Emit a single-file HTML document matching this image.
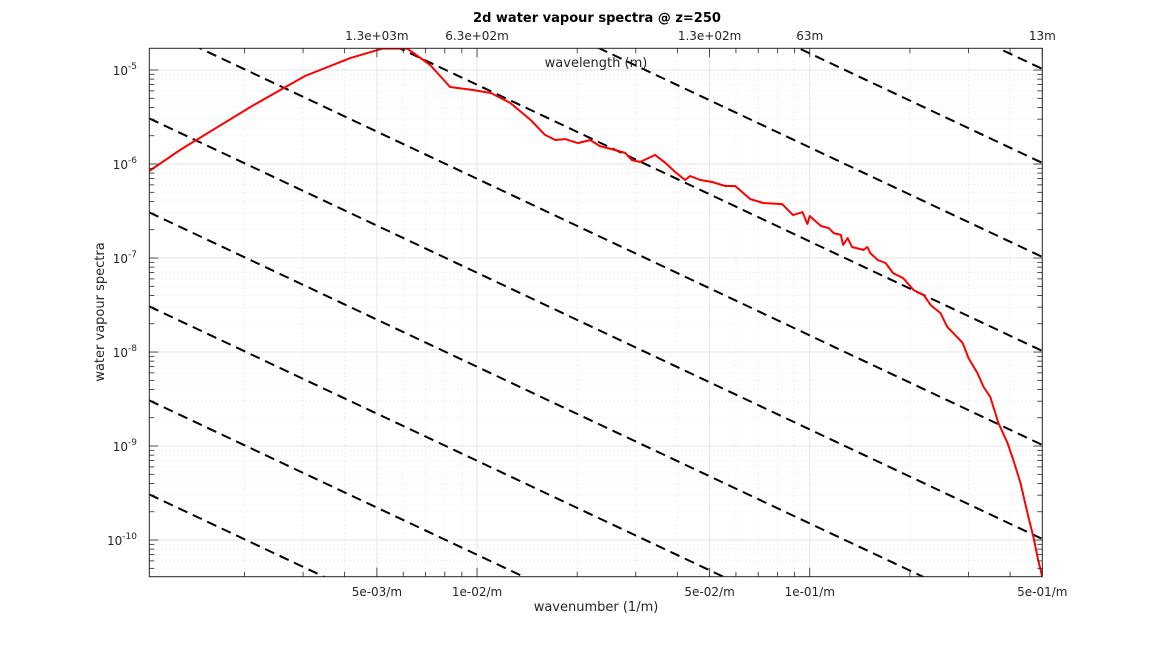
<!DOCTYPE html>
<html><head><meta charset="utf-8"><style>
html,body{margin:0;padding:0;background:#fff;width:1152px;height:648px;overflow:hidden;}
svg{display:block;font-family:"DejaVu Sans","Liberation Sans",sans-serif;}
</style></head><body>
<svg id="chart" width="1152" height="648" viewBox="0 0 1152 648" xmlns="http://www.w3.org/2000/svg">
<defs><clipPath id="pc"><rect x="149.3" y="48.3" width="893" height="528.4"/></clipPath></defs>
<g id="grid"></g>
<g id="lines" clip-path="url(#pc)"></g>
<g id="series" clip-path="url(#pc)"></g>
<g id="axes"></g>
<text x="597" y="22" text-anchor="middle" font-size="13" font-weight="bold" fill="#000">2d water vapour spectra @ z=250</text>
<text x="596" y="67" text-anchor="middle" font-size="13" fill="#262626">wavelength (m)</text>
<text x="596" y="611" text-anchor="middle" font-size="13" fill="#262626">wavenumber (1/m)</text>
<text transform="translate(104,312) rotate(-90)" text-anchor="middle" font-size="13" fill="#262626">water vapour spectra</text>
</svg>
<script>
const kVals=[1.035e-3,1.28e-3,2.08e-3,3.04e-3,4.16e-3,5.19e-3,6.17e-3,7.23e-3,8.30e-3,9.73e-3,1.10e-2,1.26e-2,1.45e-2,1.60e-2,1.72e-2,1.84e-2,2.01e-2,2.19e-2,2.34e-2,2.60e-2,2.79e-2,2.92e-2,3.09e-2,3.43e-2,3.68e-2,3.94e-2,4.22e-2,4.37e-2,4.69e-2,5.09e-2,5.57e-2,5.97e-2,6.26e-2,6.62e-2,7.24e-2,8.26e-2,8.91e-2,9.51e-2,9.84e-2,1.00e-1,1.08e-1,1.14e-1,1.18e-1,1.24e-1,1.26e-1,1.30e-1,1.34e-1,1.45e-1,1.49e-1,1.52e-1,1.60e-1,1.69e-1,1.78e-1,1.91e-1,2.05e-1,2.20e-1,2.31e-1,2.47e-1,2.59e-1,2.70e-1,2.88e-1,3.00e-1,3.19e-1,3.33e-1,3.49e-1,3.69e-1,3.93e-1,4.09e-1,4.30e-1,4.54e-1,4.70e-1,4.86e-1,5.00e-1];
const specVals=[8.43e-7,1.41e-6,4.03e-6,8.63e-6,1.34e-5,1.69e-5,1.69e-5,1.13e-5,6.59e-6,6.13e-6,5.69e-6,4.46e-6,2.94e-6,2.04e-6,1.80e-6,1.84e-6,1.67e-6,1.80e-6,1.55e-6,1.41e-6,1.31e-6,1.10e-6,1.05e-6,1.25e-6,1.03e-6,8.22e-7,6.76e-7,7.45e-7,6.76e-7,6.44e-7,5.84e-7,5.84e-7,5.04e-7,4.25e-7,3.85e-7,3.75e-7,2.86e-7,3.08e-7,2.30e-7,2.80e-7,2.19e-7,2.08e-7,1.84e-7,1.76e-7,1.38e-7,1.63e-7,1.31e-7,1.22e-7,1.31e-7,1.13e-7,9.53e-8,8.85e-8,6.92e-8,6.12e-8,4.57e-8,4.04e-8,3.16e-8,2.60e-8,1.85e-8,1.59e-8,1.25e-8,8.63e-9,5.98e-9,4.25e-9,3.32e-9,1.76e-9,1.08e-9,7.10e-10,4.04e-10,1.76e-10,1.08e-10,6.12e-11,4.04e-11];
const refLineLogC=[-5.49,-6.49,-7.49,-8.49,-9.49,-10.49,-11.49,-12.49,-13.49,-14.49];
const refSlope=-5/3;
const xTickVals=[5e-3,1e-2,5e-2,1e-1,5e-1];
const xTickLabels=["5e-03/m","1e-02/m","5e-02/m","1e-01/m","5e-01/m"];
const topTickLabels=["1.3e+03m","6.3e+02m","1.3e+02m","63m","13m"];
const yTickExps=[-5,-6,-7,-8,-9,-10];

const X0=149.3,X1=1042.3,Y0=48.3,Y1=576.7;
const LX0=Math.log10(1.035e-3),LX1=Math.log10(0.5),LY0=-10.39,LY1=-4.769;
const sx=k=>X0+(Math.log10(k)-LX0)/(LX1-LX0)*(X1-X0);
const sy=v=>Y1-(Math.log10(v)-LY0)/(LY1-LY0)*(Y1-Y0);
const NS="http://www.w3.org/2000/svg";
function mk(tag,attrs,parent){const e=document.createElementNS(NS,tag);for(const a in attrs)e.setAttribute(a,attrs[a]);parent.appendChild(e);return e;}
const grid=document.getElementById('grid'),axes=document.getElementById('axes');
for(let d=-3;d<=0;d++)for(let m=1;m<=9;m++){const k=m*Math.pow(10,d);if(k<1.035e-3||k>0.5)continue;const x=sx(k);
 const major=(m===1||m===5);
 const g=mk('line',{x1:x,x2:x,y1:Y0,y2:Y1,stroke:major?'#e6e6e6':'#e0e0e0','stroke-width':major?1:0.8,'stroke-dasharray':major?'':'1,3'},grid);
 
 for(const [ya,dir] of [[Y1,-1],[Y0,1]]){const t=mk('line',{x1:x,x2:x,y1:ya,y2:ya+dir*(major?9:5),stroke:'#262626','stroke-width':0.8},axes);
 }
}
for(let d=-11;d<=-5;d++)for(let m=1;m<=9;m++){const v=m*Math.pow(10,d);const y=sy(v);if(y<Y0||y>Y1)continue;
 const major=m===1;
 const g=mk('line',{x1:X0,x2:X1,y1:y,y2:y,stroke:major?'#e6e6e6':'#e0e0e0','stroke-width':major?1:0.8,'stroke-dasharray':major?'':'1,3'},grid);
 
 for(const [xa,dir] of [[X0,1],[X1,-1]]){const t=mk('line',{x1:xa,x2:xa+dir*(major?9:5),y1:y,y2:y,stroke:'#262626','stroke-width':0.8},axes);
 }
}
const lines=document.getElementById('lines');
refLineLogC.forEach(c=>{const ka=1.035e-3,kb=0.5;
 const va=Math.pow(10,c+refSlope*Math.log10(ka)),vb=Math.pow(10,c+refSlope*Math.log10(kb));
 const l=mk('line',{x1:sx(ka),y1:sy(va),x2:sx(kb),y2:sy(vb),stroke:'#000','stroke-width':2,'stroke-dasharray':'10,6'},lines);
 });
const pts=kVals.map((k,i)=>sx(k).toFixed(1)+','+sy(specVals[i]).toFixed(1)).join(' ');
const pl=mk('polyline',{points:pts,fill:'none',stroke:'#ff0000','stroke-width':2,'stroke-linejoin':'round'},document.getElementById('series'));

const box=mk('rect',{x:X0,y:Y0,width:X1-X0,height:Y1-Y0,fill:'none',stroke:'#262626','stroke-width':1},axes);

xTickVals.forEach((k,i)=>{
 const t=mk('text',{x:sx(k),y:596,'text-anchor':'middle','font-size':12,fill:'#262626'},axes);t.textContent=xTickLabels[i];
 
 const u=mk('text',{x:sx(k),y:40,'text-anchor':'middle','font-size':12,fill:'#262626'},axes);u.textContent=topTickLabels[i];
 
});
yTickExps.forEach(e=>{const y=sy(Math.pow(10,e));
 const t=mk('text',{x:137,y:y+5,'text-anchor':'end','font-size':12,fill:'#262626'},axes);
 
 const a=mk('tspan',{},t);a.textContent='10';
 const b=mk('tspan',{dy:-6,'font-size':9},t);b.textContent=String(e);
});
</script>
</body></html>
